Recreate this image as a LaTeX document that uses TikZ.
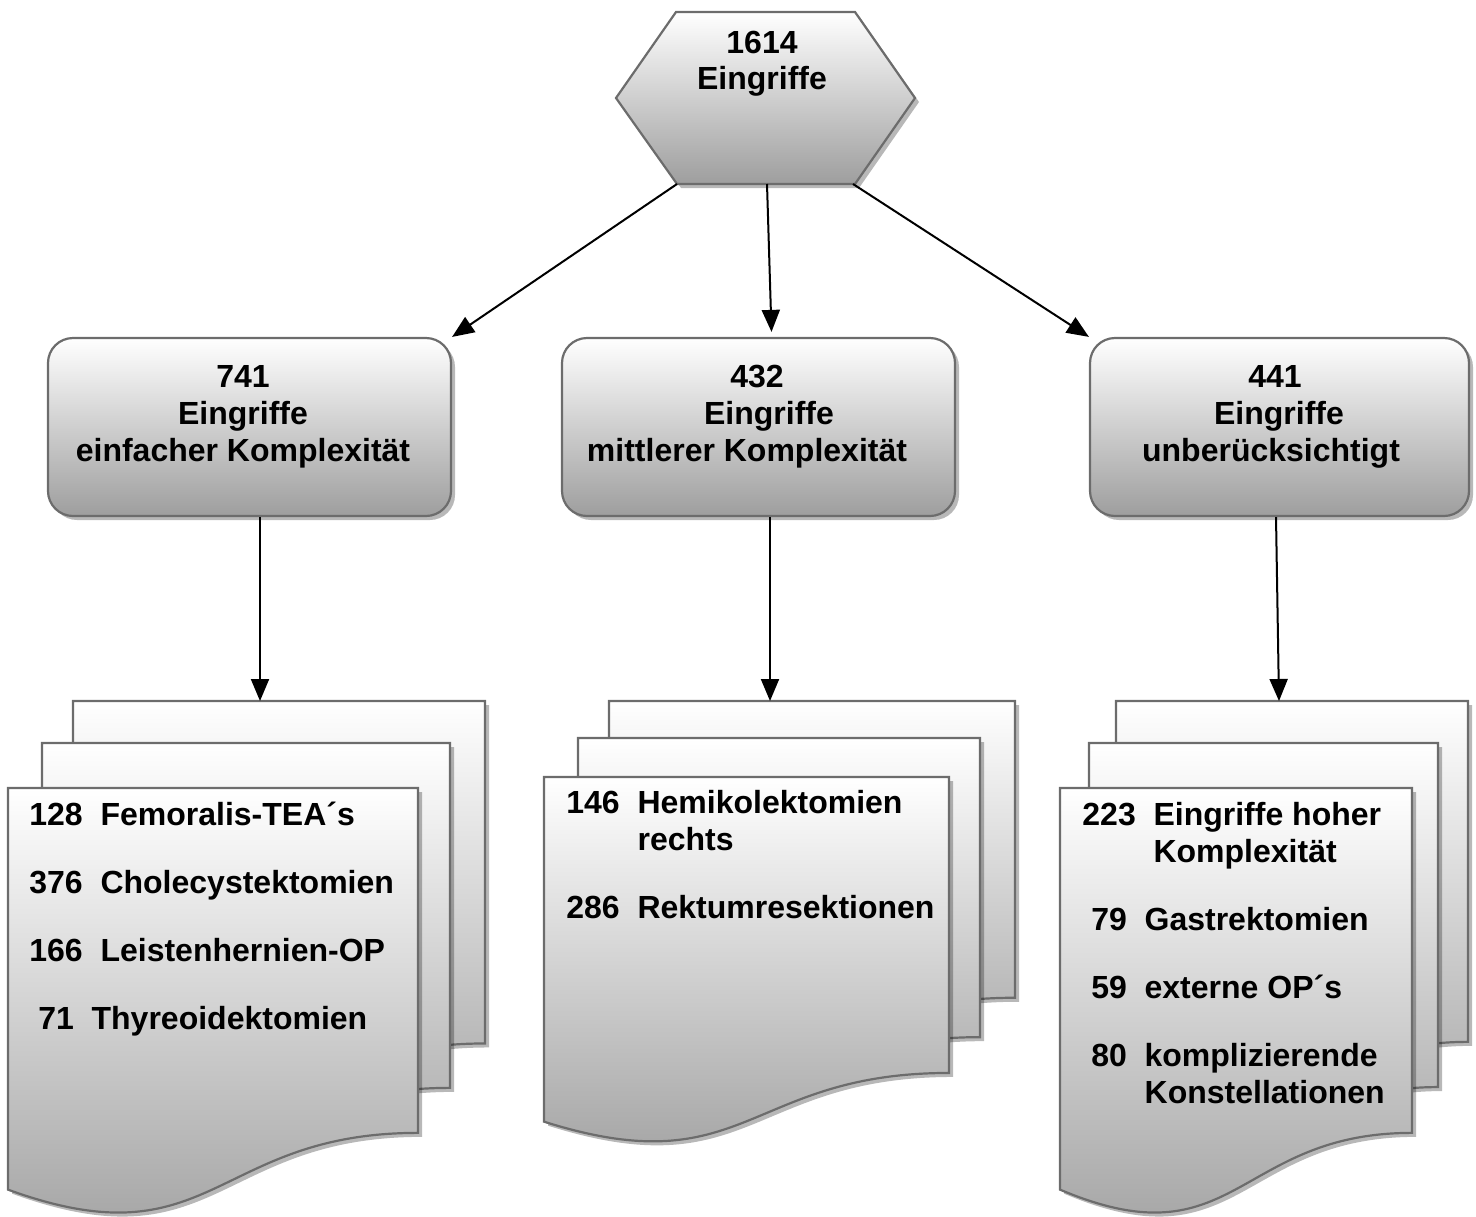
\documentclass[tikz,border=0pt]{standalone}
\usepackage{fontspec}
\setmainfont{Liberation Sans}
\usetikzlibrary{arrows.meta,shadows,calc}
\definecolor{edgegray}{RGB}{108,108,108}
\definecolor{shadebot}{RGB}{158,158,158}
\tikzset{
  shapefill/.style={top color=white, bottom color=shadebot, draw=edgegray, line width=1.1pt,
    drop shadow={shadow xshift=2pt, shadow yshift=-2pt, fill=black, opacity=0.28}},
  boxnode/.style={shapefill, rounded corners=12.5pt, minimum height=89pt, inner sep=0pt},
  txt/.style={font=\bfseries\fontsize{16}{18.5}\selectfont, inner sep=0pt},
  conn/.style={line width=1pt, -{Triangle[length=11pt,width=9pt]}},
}
\newcommand\docshape[4]{%
  \path[shapefill] (#1,#2) -- ({#1+#3},#2) -- ({#1+#3},{#2+0.802*#4})
    .. controls ({#1+0.5*#3},{#2+0.802*#4}) and ({#1+0.5*#3},{#2+1.1075*#4}) ..
    (#1,{#2+0.934*#4}) -- cycle;}
\begin{document}
\begin{tikzpicture}[x=0.5pt,y=-0.5pt]
\useasboundingbox (0,0) rectangle (1476,1216);

% hexagon
\path[shapefill] (676,12) -- (855,12) -- (915,98) -- (855,184) -- (677,184) -- (616,98) -- cycle;
\node[txt, anchor=base] (hex) at (762,53) {\begin{tabular}[t]{@{}c@{}}1614\\[-0.5pt]Eingriffe\end{tabular}};
\coordinate (hexBL) at (677,184);
\coordinate (hexBM) at (767,184);
\coordinate (hexBR) at (853,184);

% category boxes
\node[boxnode, minimum width=201.5pt] (b1) at (249.5,427) {};
\node[boxnode, minimum width=196.5pt] (b2) at (758.5,427) {};
\node[boxnode, minimum width=189.5pt] (b3) at (1279.5,427) {};

\node[txt, anchor=base] (t1) at (243,387) {\begin{tabular}[t]{@{}c@{}}741\\Eingriffe\\einfacher Komplexität\end{tabular}};
\node[txt, anchor=base] (t2) at (757,387) {\begin{tabular}[t]{@{}c@{}}432\\\hspace*{12pt}Eingriffe\\mittlerer Komplexität\hspace*{10pt}\end{tabular}};
\node[txt, anchor=base] (t3) at (1275,387) {\begin{tabular}[t]{@{}c@{}}441\\\hspace*{4pt}Eingriffe\\unberücksichtigt\hspace*{4pt}\end{tabular}};

% document stacks
\docshape{73}{701}{412}{427}
\docshape{42}{743}{408}{430}
\docshape{8}{788}{410}{430}

\docshape{609}{701}{406}{370}
\docshape{578}{738}{402}{373}
\docshape{544}{777}{405}{369}

\docshape{1116}{701}{352}{425}
\docshape{1089}{743}{349}{429}
\docshape{1060}{788}{352}{430}

\coordinate (d1) at (260,701);
\coordinate (d2) at (770,701);
\coordinate (d3) at (1279,701);

\node[txt, anchor=base west] (L) at (29,825) {\begin{tabular}[t]{@{}l@{}}128\ \ Femoralis-TEA´s\\[15.5pt]
376\ \ Cholecystektomien\\[15.5pt]
166\ \ Leistenhernien-OP\\[15.5pt]
\ 71\ \ Thyreoidektomien\end{tabular}};

\node[txt, anchor=base west] (M) at (566,813) {\begin{tabular}[t]{@{}l@{}}146\ \ Hemikolektomien\\
\phantom{146\ \ }rechts\\[15.5pt]
286\ \ Rektumresektionen\end{tabular}};

\node[txt, anchor=base west] (R) at (1082,825) {\begin{tabular}[t]{@{}l@{}}223\ \ Eingriffe hoher\\
\phantom{223\ \ }Komplexität\\[15.5pt]
\ 79\ \ Gastrektomien\\[15.5pt]
\ 59\ \ externe OP´s\\[15.5pt]
\ 80\ \ komplizierende\\
\phantom{\ 80\ \ }Konstellationen\end{tabular}};

% connectors
\draw[conn] (hexBL) -- (b1.north east);
\draw[conn] (hexBM) -- ([xshift=6.5pt,yshift=2.5pt]b2.north);
\draw[conn] (hexBR) -- (b3.north west);
\draw[conn] (b1.south -| d1) -- (d1);
\draw[conn] (b2.south -| d2) -- (d2);
\draw[conn] ([xshift=-1.75pt]b3.south) -- (d3);
\end{tikzpicture}
\end{document}
